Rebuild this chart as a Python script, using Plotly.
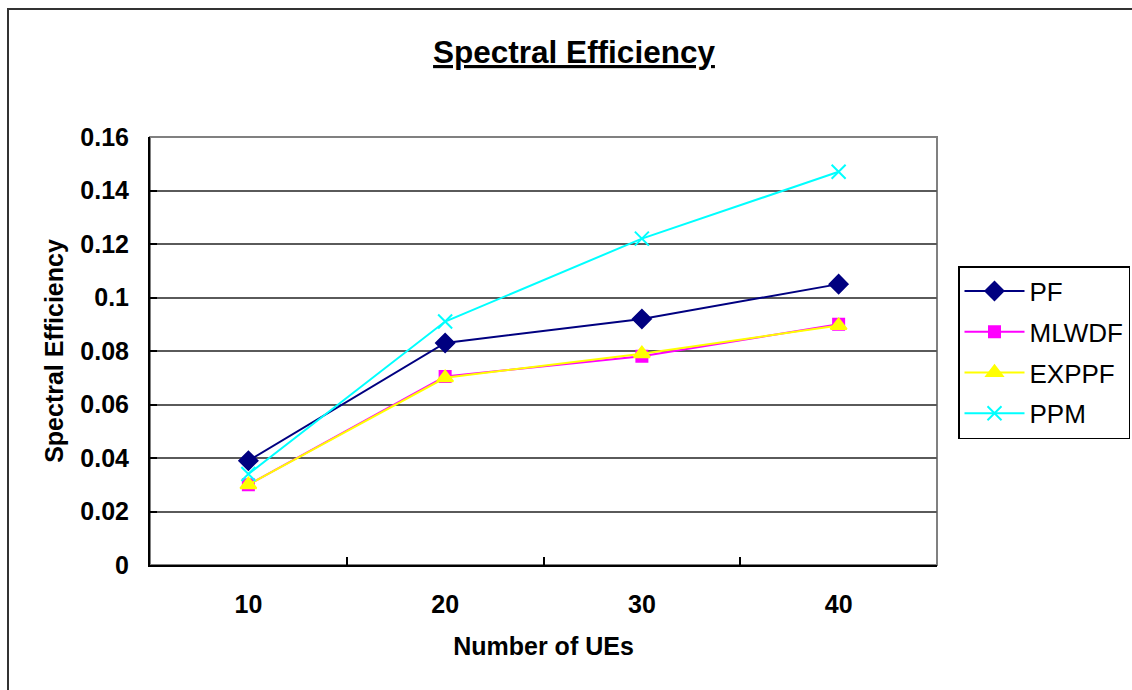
import plotly.graph_objects as go

# Number of UEs (x categories) and spectral efficiency per scheduler
ues = [10, 20, 30, 40]
pf = [0.039, 0.083, 0.092, 0.105]
mlwdf = [0.030, 0.0705, 0.078, 0.090]
exppf = [0.030, 0.070, 0.079, 0.0895]
ppm = [0.034, 0.091, 0.122, 0.147]

y_ticks = [0, 0.02, 0.04, 0.06, 0.08, 0.1, 0.12, 0.14, 0.16]
y_tick_text = ["0", "0.02", "0.04", "0.06", "0.08", "0.1", "0.12", "0.14", "0.16"]

FONT = "Arial, Liberation Sans, sans-serif"

series = [
    ("PF", pf, "#000080", "diamond", 14),
    ("MLWDF", mlwdf, "#FF00FF", "square", 11),
    ("EXPPF", exppf, "#FFFF00", "triangle-up", 14),
    ("PPM", ppm, "#00FFFF", "x-thin", 14),
]

fig = go.Figure()
for i, (name, vals, color, sym, size) in enumerate(series):
    fig.add_trace(go.Scatter(
        x=ues, y=vals, name=name, mode="lines+markers",
        line=dict(color=color, width=2),
        marker=dict(symbol=sym, size=size, color=color,
                    line=dict(color=color, width=2)),
        legendgroup=name,
    ))

fig.update_layout(
    width=1132, height=690,
    margin=dict(l=150, r=195, t=137, b=125, autoexpand=False),
    paper_bgcolor="white", plot_bgcolor="white",
    font=dict(family=FONT, color="black"),
    title=dict(
        text="<b>Spectral Efficiency</b>",
        font=dict(size=31.5, family=FONT, color="black", lineposition="under"),
        x=(574 - 150) / 787, xanchor="center", xref="paper",
        y=1 - 52 / 690, yanchor="middle", yref="container",
    ),
    showlegend=True,
    legend=dict(
        x=(958 - 150) / 787, xanchor="left",
        y=(565 - 266) / 428, yanchor="top",
        bordercolor="black", borderwidth=1.5,
        font=dict(size=26, family=FONT, color="black"),
        traceorder="grouped", tracegroupgap=4,
        itemwidth=60, bgcolor="white",
    ),
    xaxis=dict(
        range=[5, 45], tickvals=ues, ticktext=[str(u) for u in ues],
        ticks="", showgrid=False, zeroline=False,
        showline=True, linecolor="black", linewidth=2,
        tickfont=dict(size=25, family=FONT, color="black", weight="bold"),
        ticklabelstandoff=16,
        minor=dict(tickvals=[15, 25, 35], ticks="inside", ticklen=8,
                   tickcolor="black", tickwidth=1.5, showgrid=False),
        title=dict(text="<b>Number of UEs</b>",
                   font=dict(size=25, family=FONT, color="black"),
                   standoff=20),
    ),
    yaxis=dict(
        range=[0, 0.16], tickvals=y_ticks, ticktext=y_tick_text,
        ticks="inside", ticklen=7, tickcolor="black", tickwidth=1.5,
        showgrid=True, gridcolor="#5a5a5a", gridwidth=1.5,
        zeroline=False, showline=True, linecolor="black", linewidth=2,
        tickfont=dict(size=25, family=FONT, color="black", weight="bold"),
        ticklabelstandoff=14,
        title=dict(text="<b>Spectral Efficiency</b>",
                   font=dict(size=25, family=FONT, color="black"),
                   standoff=10),
    ),
    shapes=[
        # plot-area frame
        dict(type="rect", xref="paper", yref="paper", x0=0, x1=1, y0=0, y1=1,
             line=dict(color="#808080", width=2), layer="below"),
        # outer chart frame
        dict(type="rect", xref="paper", yref="paper",
             x0=(8 - 150) / 787, x1=(1160 - 150) / 787,
             y0=(565 - 720) / 428, y1=(565 - 9) / 428,
             line=dict(color="#333333", width=2), layer="below"),
    ],
)

fig.write_html("out.html")
